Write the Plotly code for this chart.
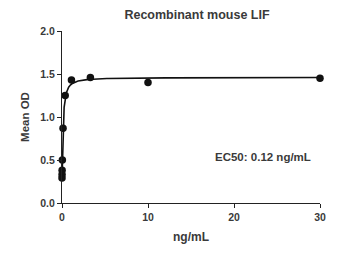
import numpy as np
import plotly.graph_objects as go

conc = [30, 10, 3.3, 1.1, 0.37, 0.12, 0.041, 0.014, 0.0046, 0.0015]
od = [1.45, 1.40, 1.46, 1.43, 1.25, 0.87, 0.50, 0.38, 0.33, 0.29]

# 4PL fit parameters
bottom, top, ec50, hill = 0.28, 1.46, 0.12, 1.2
xfit = np.concatenate([np.linspace(0.0005, 1, 200), np.linspace(1, 30, 200)])
yfit = bottom + (top - bottom) / (1 + (ec50 / xfit) ** hill)

xticks = [0, 10, 20, 30]
yticks = [0.0, 0.5, 1.0, 1.5, 2.0]

font = "Liberation Sans, Arial, sans-serif"
col = "#3a3a3a"
fig = go.Figure()
fig.add_trace(go.Scatter(x=xfit, y=yfit, mode="lines",
                         line=dict(color="#111", width=1.6), cliponaxis=False,
                         showlegend=False, hoverinfo="skip"))
fig.add_trace(go.Scatter(x=conc, y=od, mode="markers",
                         marker=dict(color="#111", size=7.5), cliponaxis=False,
                         showlegend=False))
L, R, T, B = 62, 27, 31, 63
fig.update_layout(
    width=347, height=266,
    margin=dict(l=L, r=R, t=T, b=B),
    paper_bgcolor="white", plot_bgcolor="white",
    font=dict(family=font, color=col, size=10),
    title=dict(text="Recombinant mouse LIF", x=197 / 347, xanchor="center",
               y=1 - 15 / 266, yanchor="middle",
               font=dict(size=12.5, color=col, weight="bold")),
    xaxis=dict(range=[0, 30], tickvals=xticks, ticks="outside", ticklen=4,
               tickwidth=1.3, tickcolor="#222", showline=True, linecolor="#222",
               linewidth=1.3, showgrid=False, zeroline=False,
               tickfont=dict(size=10.5, color=col, weight="bold"),
               title=dict(text="ng/mL", font=dict(size=12, color=col, weight="bold"), standoff=10)),
    yaxis=dict(range=[0, 2], tickvals=yticks, tickformat=".1f", ticks="outside",
               ticklen=4, tickwidth=1.3, tickcolor="#222", showline=True,
               linecolor="#222", linewidth=1.3, showgrid=False, zeroline=False,
               tickfont=dict(size=10.5, color=col, weight="bold"),
               title=dict(text="Mean OD", font=dict(size=11.5, color=col, weight="bold"), standoff=8)),
    annotations=[dict(text="EC50: 0.12 ng/mL", showarrow=False, xref="paper", yref="paper",
                      x=(263 - L) / (347 - L - R), y=(266 - B - 157) / (266 - T - B),
                      xanchor="center", yanchor="middle",
                      font=dict(size=11.5, color=col, weight="bold"))],
)
fig.write_html("out.html")
